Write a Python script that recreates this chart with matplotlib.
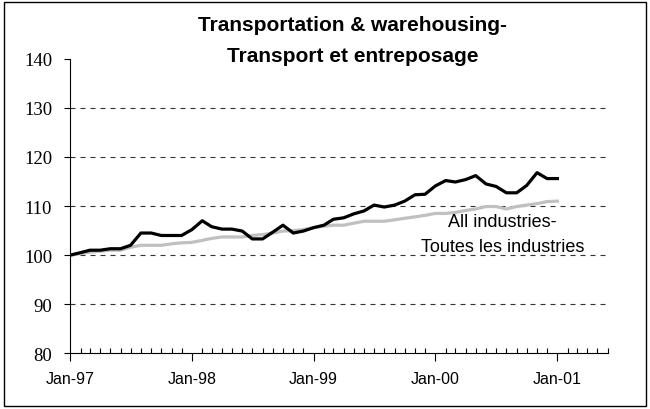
import matplotlib as mpl
import matplotlib.pyplot as plt
import matplotlib.dates as mdates
import numpy as np
import pandas as pd

mpl.rcParams.update({'font.family': 'Liberation Sans', 'font.size': 12})

months = pd.date_range('1997-01-01', periods=49, freq='MS')

transport = [100.0, 100.5, 101.0, 101.0, 101.3, 101.3, 102.0, 104.5, 104.5, 104.0,
             104.0, 104.0, 105.2, 107.0, 105.8, 105.3, 105.3, 104.9, 103.3, 103.3,
             104.7, 106.1, 104.5, 104.9, 105.6, 106.1, 107.3, 107.6, 108.4, 109.0,
             110.2, 109.8, 110.2, 111.0, 112.3, 112.4, 114.1, 115.2, 114.9, 115.4,
             116.2, 114.5, 114.0, 112.7, 112.7, 114.2, 116.8, 115.6, 115.6]

all_industries = [100.0, 100.3, 100.6, 100.8, 101.0, 101.0, 101.6, 102.0, 102.0, 102.0,
                  102.3, 102.5, 102.6, 103.0, 103.4, 103.7, 103.7, 103.7, 104.0, 104.2,
                  104.5, 104.9, 105.0, 105.2, 105.6, 105.9, 106.1, 106.1, 106.5, 106.9,
                  106.9, 106.9, 107.2, 107.5, 107.8, 108.1, 108.5, 108.5, 108.7, 109.1,
                  109.4, 109.9, 109.9, 109.4, 109.9, 110.2, 110.5, 110.9, 111.0]

title = "Transportation & warehousing-\nTransport et entreposage"
label_all = "All industries-\nToutes les industries"
yticks = [80, 90, 100, 110, 120, 130, 140]

fig = plt.figure(figsize=(6.5, 4.1), dpi=100)
ax = fig.add_axes([0.108, 0.136, 0.827, 0.718])

# outer frame
fig.patches.append(mpl.patches.Rectangle((0.006, 0.008), 0.988, 0.985, transform=fig.transFigure,
                                         fill=False, edgecolor='k', linewidth=1.0))

x_end = pd.Timestamp('2001-06-01')
for y in yticks[1:-1]:
    ax.plot([months[0], x_end], [y, y], color='#333333', lw=0.8, ls=(0, (4.5, 4.5)), zorder=1)

ax.plot(months, all_industries, color='#c0c0c0', lw=2.3, zorder=2)
ax.plot(months, transport, color='k', lw=2.3, zorder=3)

ax.set_xlim(months[0], x_end)
ax.set_ylim(80, 140)
ax.set_yticks(yticks)
ax.set_yticklabels([str(v) for v in yticks], fontfamily='Liberation Serif', fontsize=13.5)

ax.xaxis.set_major_locator(mdates.YearLocator())
ax.xaxis.set_minor_locator(mdates.MonthLocator())
ax.xaxis.set_major_formatter(mdates.DateFormatter('%b-%y'))
ax.tick_params(axis='x', which='major', direction='out', length=6, width=0.8, labelsize=11.5, pad=7)
ax.tick_params(axis='x', which='minor', direction='in', length=3.5, width=0.8)
ax.tick_params(axis='y', direction='out', length=4, width=0.8, pad=9)

for side in ['top', 'right']:
    ax.spines[side].set_visible(False)
for side in ['left', 'bottom']:
    ax.spines[side].set_linewidth(0.8)

fig.text(0.542, 0.9, title, ha='center', va='center', fontsize=15, fontweight='bold',
         linespacing=1.8)
ax.text(pd.Timestamp('2000-07-20'), 104.3, label_all, ha='center', va='center', fontsize=13,
        linespacing=1.56)

fig.savefig('out.png', dpi=100)
